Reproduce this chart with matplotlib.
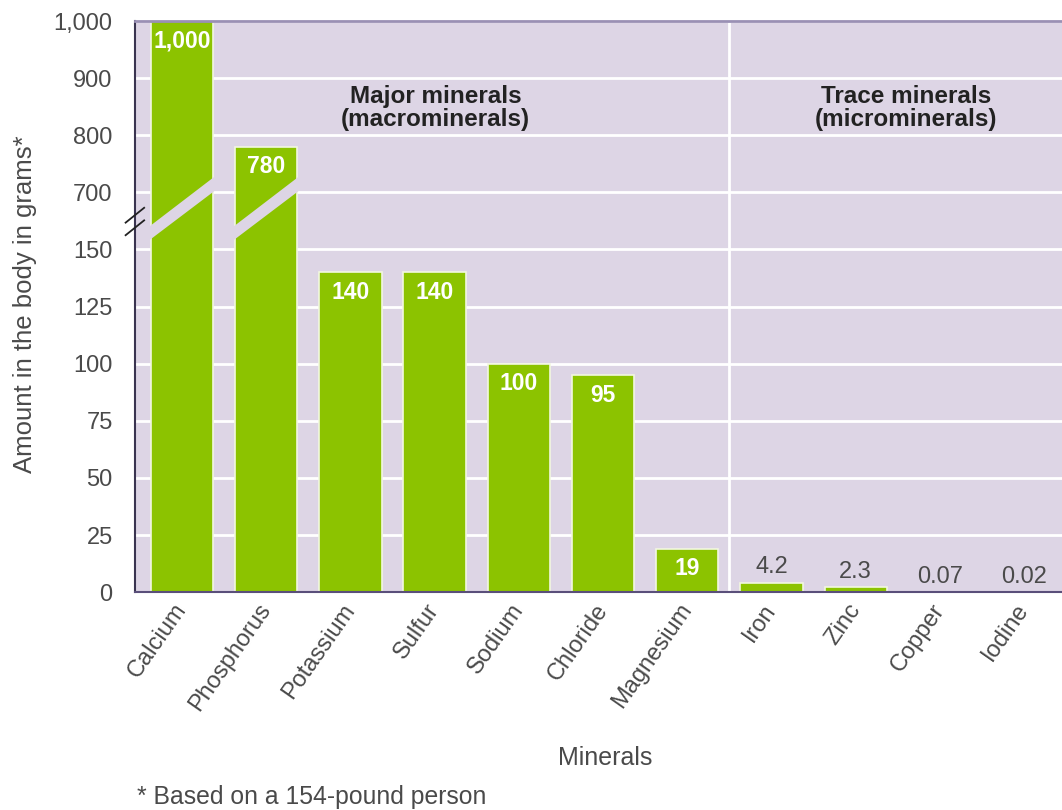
import numpy as np
import matplotlib.pyplot as plt
from matplotlib.patches import Polygon
from matplotlib.transforms import blended_transform_factory

plt.rcParams['font.family'] = ['Liberation Sans', 'DejaVu Sans']

minerals = ["Calcium", "Phosphorus", "Potassium", "Sulfur", "Sodium", "Chloride",
            "Magnesium", "Iron", "Zinc", "Copper", "Iodine"]
grams = [1000, 780, 140, 140, 100, 95, 19, 4.2, 2.3, 0.07, 0.02]
value_labels = ["1,000", "780", "140", "140", "100", "95", "19", "4.2", "2.3", "0.07", "0.02"]
ytick_values = [0, 25, 50, 75, 100, 125, 150, 700, 800, 900, 1000]
ytick_labels = ["0", "25", "50", "75", "100", "125", "150", "700", "800", "900", "1,000"]
broken_bars = ["Calcium", "Phosphorus"]

BG = "#ddd5e5"
GREEN = "#8cc300"
GREY = "#4a4a4a"


# piecewise axis: 0-150 in steps of 25, one step for the gap, 700-1000 in steps of 100
def fwd(y):
    y = np.asarray(y, dtype=float)
    return np.where(y <= 150, y / 25.0,
                    np.where(y < 700, 6 + (y - 150) / 550.0, 7 + (y - 700) / 100.0))


def inv(p):
    p = np.asarray(p, dtype=float)
    return np.where(p <= 6, p * 25.0,
                    np.where(p < 7, 150 + (p - 6) * 550.0, 700 + (p - 7) * 100.0))


fig = plt.figure(figsize=(10.62, 8.1), dpi=100)
ax = fig.add_axes([0.127, 0.269, 0.873, 0.705])
ax.set_facecolor(BG)
ax.set_yscale('function', functions=(fwd, inv))
ax.set_ylim(0, 1000)
ax.set_xlim(-0.56, 10.45)

x = np.arange(len(minerals))
ax.bar(x, grams, width=0.74, color=GREEN, edgecolor="#f2f7e0", linewidth=1.2, zorder=3)

# horizontal grid and the divider between major and trace minerals
for v in ytick_values:
    ax.axhline(v, color="white", lw=2, zorder=1)
ax.axvline(6.5, color="white", lw=2, zorder=1)

# slanted cut through the tall bars
trans = blended_transform_factory(ax.transData, ax.transAxes)
for name in broken_bars:
    i = minerals.index(name)
    x0, x1 = i - 0.39, i + 0.39
    band = Polygon([(x0, 0.616), (x0, 0.640), (x1, 0.728), (x1, 0.703)],
                   closed=True, facecolor=BG, edgecolor="none", transform=trans, zorder=4)
    ax.add_patch(band)

# value labels: white inside the bar, grey above the small ones
for i, (v, lab) in enumerate(zip(grams, value_labels)):
    if v >= 19:
        ax.annotate(lab, (i, v), xytext=(0, -14.5), textcoords="offset points",
                    ha="center", va="center", color="white", fontsize=16.5,
                    fontweight="bold", zorder=5)
    else:
        ax.annotate(lab, (i, v), xytext=(0, 3), textcoords="offset points",
                    ha="center", va="bottom", color=GREY, fontsize=17, zorder=5)

ax.text(3.01, 848, "Major minerals\n(macrominerals)", ha="center", va="center",
        fontsize=17.5, fontweight="bold", color="#222222", linespacing=1.0)
ax.text(8.60, 848, "Trace minerals\n(microminerals)", ha="center", va="center",
        fontsize=17.5, fontweight="bold", color="#222222", linespacing=1.0)

ax.set_yticks(ytick_values)
ax.set_yticklabels(ytick_labels)
ax.minorticks_off()
ax.set_xticks(x)
ax.set_xticklabels(minerals, rotation=55, ha="right", va="center", rotation_mode="anchor")
ax.tick_params(axis="y", length=0, pad=16, labelsize=17, labelcolor=GREY)
ax.tick_params(axis="x", length=0, pad=10, labelsize=17, labelcolor=GREY)

ax.spines["right"].set_visible(False)
ax.spines["left"].set_color("#3a3450")
ax.spines["left"].set_linewidth(1.5)
ax.spines["bottom"].set_color("#5a4f7a")
ax.spines["bottom"].set_linewidth(1.5)
ax.spines["top"].set_color("#9a90b4")
ax.spines["top"].set_linewidth(2)
for s in ax.spines.values():
    s.set_zorder(6)

# break marks on the y axis
for yf in (0.660, 0.638):
    ax.plot([-0.67, -0.45], [yf - 0.013, yf + 0.013], color="#222222", lw=1.3,
            transform=trans, clip_on=False, zorder=7)

ax.set_ylabel("Amount in the body in grams*", fontsize=18.5, color=GREY)
ax.yaxis.set_label_coords(-0.106, 0.504)
fig.text(0.570, 0.064, "Minerals", ha="center", va="center", fontsize=18, color=GREY)
fig.text(0.129, 0.016, "* Based on a 154-pound person", ha="left", va="center",
         fontsize=17.8, color=GREY)

fig.savefig("out.png", dpi=100)
